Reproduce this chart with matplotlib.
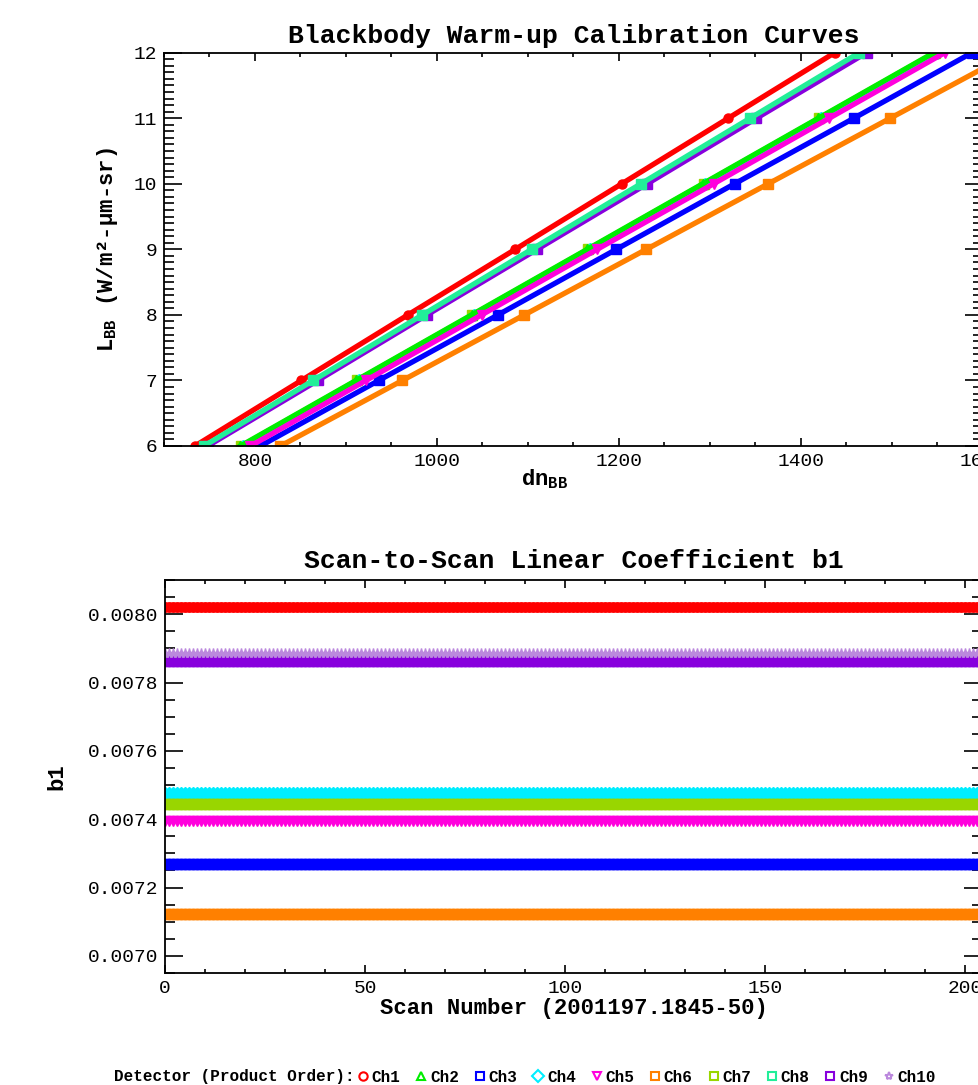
import numpy as np
import matplotlib
matplotlib.use('Agg')
import matplotlib.pyplot as plt
from matplotlib.ticker import MultipleLocator, FormatStrFormatter
from matplotlib.lines import Line2D

# channel styling (IDL-like colour table / psym)
channels = ['Ch1', 'Ch2', 'Ch3', 'Ch4', 'Ch5', 'Ch6', 'Ch7', 'Ch8', 'Ch9', 'Ch10']
colors = ['#ff0000', '#00ee00', '#0000ff', '#00eeff', '#ff00dd',
          '#ff8000', '#99d600', '#22ee99', '#8800dd', '#bb88dd']
markers = ['o', '^', 's', 'D', 'v', 's', 's', 's', 's', '*']

# top panel: radiance levels and dn read at those levels, per channel
L_levels = [6, 7, 8, 9, 10, 11, 12]
dn_curves = {
    'Ch10': [746, 866, 986, 1107, 1227, 1348, 1468],
    'Ch7': [785, 912, 1039, 1166, 1293, 1420, 1547],
    'Ch4': [787, 914, 1041, 1168, 1295, 1422, 1549],
    'Ch1': [734, 851, 968, 1086, 1203, 1320, 1437],
    'Ch2': [784, 911, 1038, 1165, 1292, 1419, 1546],
    'Ch3': [806, 936, 1067, 1197, 1327, 1458, 1588],
    'Ch5': [795, 922, 1049, 1176, 1304, 1431, 1558],
    'Ch6': [828, 962, 1096, 1230, 1364, 1498, 1632],
    'Ch9': [748, 869, 989, 1110, 1231, 1351, 1472],
    'Ch8': [744, 864, 984, 1104, 1224, 1344, 1464],
}

# bottom panel: b1 per scan (flat within the plotted resolution)
scans = np.arange(0, 205)
b1_level = [0.008020, 0.007450, 0.007268, 0.007473, 0.007394,
            0.007124, 0.007445, 0.007870, 0.007862, 0.007887]

MONO = 'Liberation Mono'
plt.rcParams['font.family'] = [MONO, 'DejaVu Sans']
plt.rcParams['mathtext.fontset'] = 'custom'
plt.rcParams['mathtext.rm'] = MONO + ':bold'
plt.rcParams['mathtext.it'] = MONO + ':bold'
plt.rcParams['mathtext.bf'] = MONO + ':bold'
plt.rcParams['xtick.direction'] = 'in'
plt.rcParams['ytick.direction'] = 'in'

W, H = 979, 1085
fig = plt.figure(figsize=(W / 100, H / 100), dpi=100)
fig.patch.set_facecolor('white')

ax1 = fig.add_axes([164 / W, 1 - 446 / H, (983 - 164) / W, (446 - 52.7) / H])
ax2 = fig.add_axes([165 / W, 1 - 973 / H, (982 - 165) / W, (973 - 580) / H])

title_font = dict(family=MONO, weight='bold', size=19)
label_font = dict(family=MONO, weight='bold', size=16)


def style_axes(ax):
    for sp in ax.spines.values():
        sp.set_linewidth(1.3)
    ax.tick_params(which='both', top=True, right=True, width=1.2, labelsize=14, pad=5)
    ax.tick_params(axis='y', which='major', length=13)
    ax.tick_params(axis='y', which='minor', length=7)
    ax.tick_params(axis='x', which='major', length=6)
    ax.tick_params(axis='x', which='minor', length=3)


# ---- top panel ----
for ch in dn_curves:
    i = channels.index(ch)
    ax1.plot(dn_curves[ch], L_levels, color=colors[i], lw=3.8,
             marker=markers[i], ms=6.5, mec=colors[i], mfc=colors[i])
ax1.set_xlim(700, 1600)
ax1.set_ylim(6, 12)
ax1.xaxis.set_major_locator(MultipleLocator(200))
ax1.xaxis.set_minor_locator(MultipleLocator(50))
ax1.yaxis.set_major_locator(MultipleLocator(1))
ax1.yaxis.set_minor_locator(MultipleLocator(0.1))
style_axes(ax1)
ax1.set_title('Blackbody Warm-up Calibration Curves', pad=7, **title_font)
ax1.set_xlabel('dn$_{BB}$', **label_font)
ax1.xaxis.set_label_coords(0.465, -0.055)
ax1.set_ylabel('L$_{BB}$ (W/m²-µm-sr)', **label_font)
ax1.yaxis.set_label_coords(-0.054, 0.5)

# ---- bottom panel ----
for i, ch in enumerate(channels):
    ax2.plot(scans, np.full(len(scans), b1_level[i]), color=colors[i], lw=1.5,
             marker=markers[i], ms=6.8, mec=colors[i], mfc=colors[i])
ax2.set_xlim(0, 204.25)
ax2.set_ylim(0.00695, 0.00810)
ax2.xaxis.set_major_locator(MultipleLocator(50))
ax2.xaxis.set_minor_locator(MultipleLocator(10))
ax2.yaxis.set_major_locator(MultipleLocator(0.0002))
ax2.yaxis.set_minor_locator(MultipleLocator(0.00005))
ax2.yaxis.set_major_formatter(FormatStrFormatter('%.4f'))
style_axes(ax2)
ax2.set_title('Scan-to-Scan Linear Coefficient b1', pad=9, **title_font)
ax2.set_xlabel('Scan Number (2001197.1845-50)', labelpad=1, **label_font)
ax2.set_ylabel('b1', **label_font)
ax2.yaxis.set_label_coords(-0.119, 0.5)

# ---- detector legend along the bottom ----
fig.text(355 / W, 1 - 1077 / H, 'Detector (Product Order):', ha='right', va='center',
         family=MONO, weight='bold', size=11.5)
handles = [Line2D([], [], ls='none', marker=markers[i], color=colors[i], mfc='none',
                  mew=1.5, ms=6) for i in range(len(channels))]
fig.legend(handles, channels, ncol=10, loc='center left',
           bbox_to_anchor=(343 / W, 1 - 1077 / H), frameon=False,
           handlelength=0.7, handletextpad=0.2, columnspacing=0.95,
           prop=dict(family=MONO, weight='bold', size=11.5))

fig.savefig('out.png', dpi=100, facecolor='white')
